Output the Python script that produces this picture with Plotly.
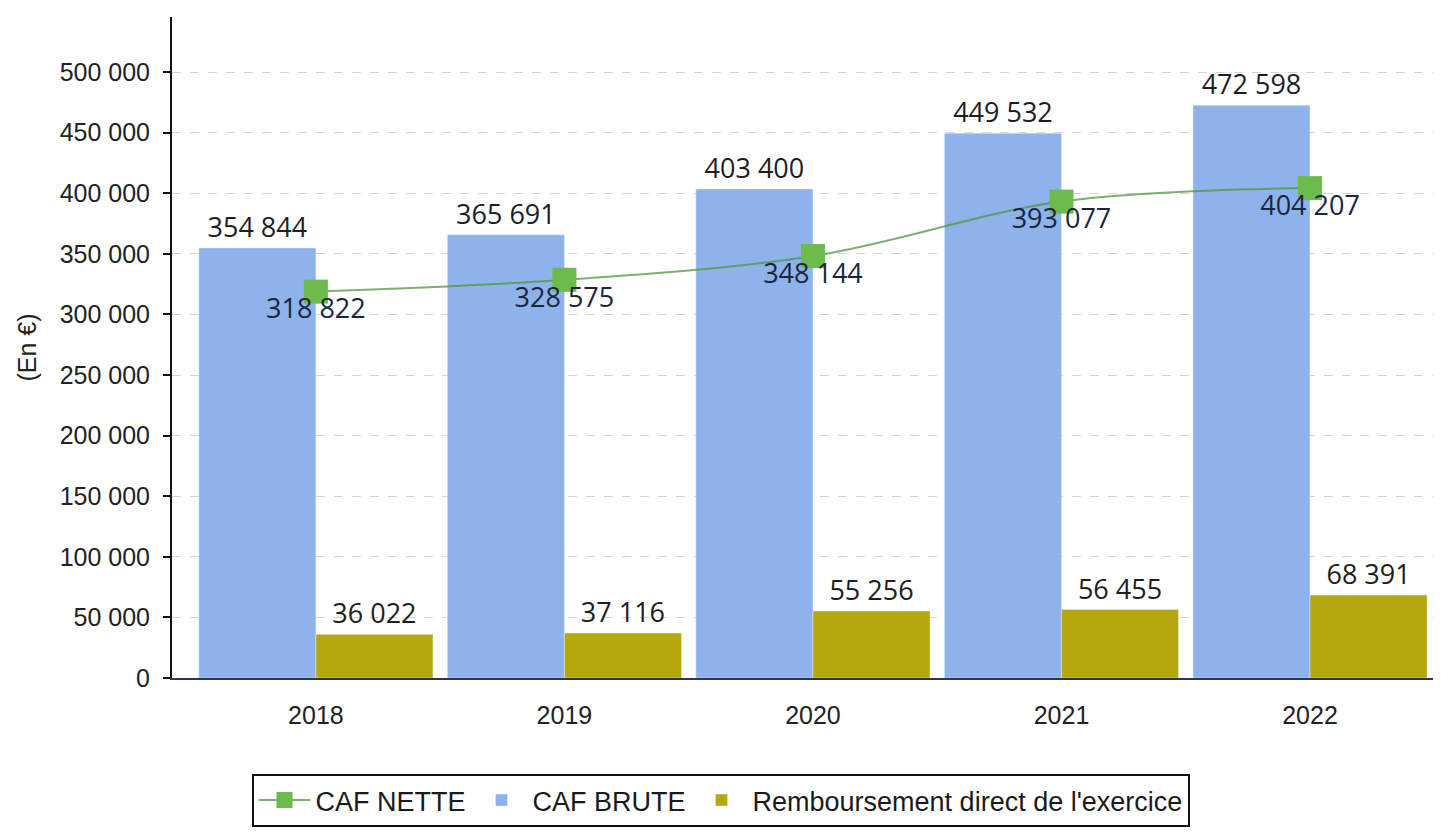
import plotly.graph_objects as go

years = ["2018", "2019", "2020", "2021", "2022"]
caf_brute = [354844, 365691, 403400, 449532, 472598]
remboursement = [36022, 37116, 55256, 56455, 68391]
caf_nette = [318822, 328575, 348144, 393077, 404207]

BLUE = "#8db3ea"
OLIVE = "#b4a80c"
GREEN = "#6cbb4c"

# page body has an 8px default margin; compensate so the figure fills the window
W, H = 1433, 831

fig = go.Figure()
fig.add_trace(go.Bar(
    x=years, y=caf_brute, name="CAF BRUTE", marker_color=BLUE,
    texttemplate="%{y:,}", textposition="outside", cliponaxis=False,
    constraintext="none",
    textfont=dict(family="Open Sans", size=27, color="#1e1e1e"),
    legendrank=2,
))
fig.add_trace(go.Bar(
    x=years, y=remboursement, name="Remboursement direct de l'exercice",
    marker_color=OLIVE,
    texttemplate="%{y:,}", textposition="outside", cliponaxis=False,
    constraintext="none",
    textfont=dict(family="Open Sans", size=27, color="#1e1e1e"),
    legendrank=3,
))
fig.add_trace(go.Scatter(
    x=years, y=caf_nette, name="CAF NETTE", mode="lines+markers",
    line=dict(color="rgba(80,150,60,0.75)", width=2, shape="spline"),
    marker=dict(symbol="square", size=24, color=GREEN),
    cliponaxis=False, legendrank=1,
))
# value labels of CAF NETTE, sitting just under each point
fig.add_trace(go.Scatter(
    x=years, y=caf_nette, mode="markers+text", showlegend=False,
    marker=dict(size=9, opacity=0),
    texttemplate="%{y:,}", textposition="bottom center",
    textfont=dict(family="Open Sans", size=27, color="#1c2540"),
    cliponaxis=False, hoverinfo="skip",
))

fig.update_layout(
    width=W, height=H,
    margin=dict(l=164, r=0, t=9, b=161),
    paper_bgcolor="white", plot_bgcolor="white",
    separators=", ",
    barmode="group", bargap=0.058, bargroupgap=0,
    font=dict(family="Liberation Sans", size=24, color="#222"),
    showlegend=True,
    legend=dict(
        orientation="h", x=(720.5 - 8) / W, xanchor="center", xref="container",
        y=1 - 766 / H, yanchor="top", yref="container",
        bordercolor="#111", borderwidth=2,
        font=dict(family="Liberation Sans", size=27, color="#1a1a1a"),
        itemwidth=52, tracegroupgap=0,
    ),
    xaxis=dict(
        range=[-0.579, 4.527], showgrid=False, zeroline=False,
        showline=True, linecolor="#2a3550", linewidth=2,
        ticks="", ticklabelstandoff=14,
        tickfont=dict(family="Liberation Sans", size=25, color="#222"),
    ),
    yaxis=dict(
        range=[0, 545400], dtick=50000, tickformat=",",
        showgrid=True, gridcolor="#d4d4d4", gridwidth=1, griddash="dash",
        zeroline=False, showline=True, linecolor="#111", linewidth=2,
        ticks="outside", ticklen=7, tickcolor="#111", tickwidth=2,
        ticklabelstandoff=8,
        tickfont=dict(family="Liberation Sans", size=25, color="#222"),
        title=dict(text="(En €)", standoff=16,
                   font=dict(family="Liberation Sans", size=25, color="#222")),
    ),
)

fig.write_html("out.html")
